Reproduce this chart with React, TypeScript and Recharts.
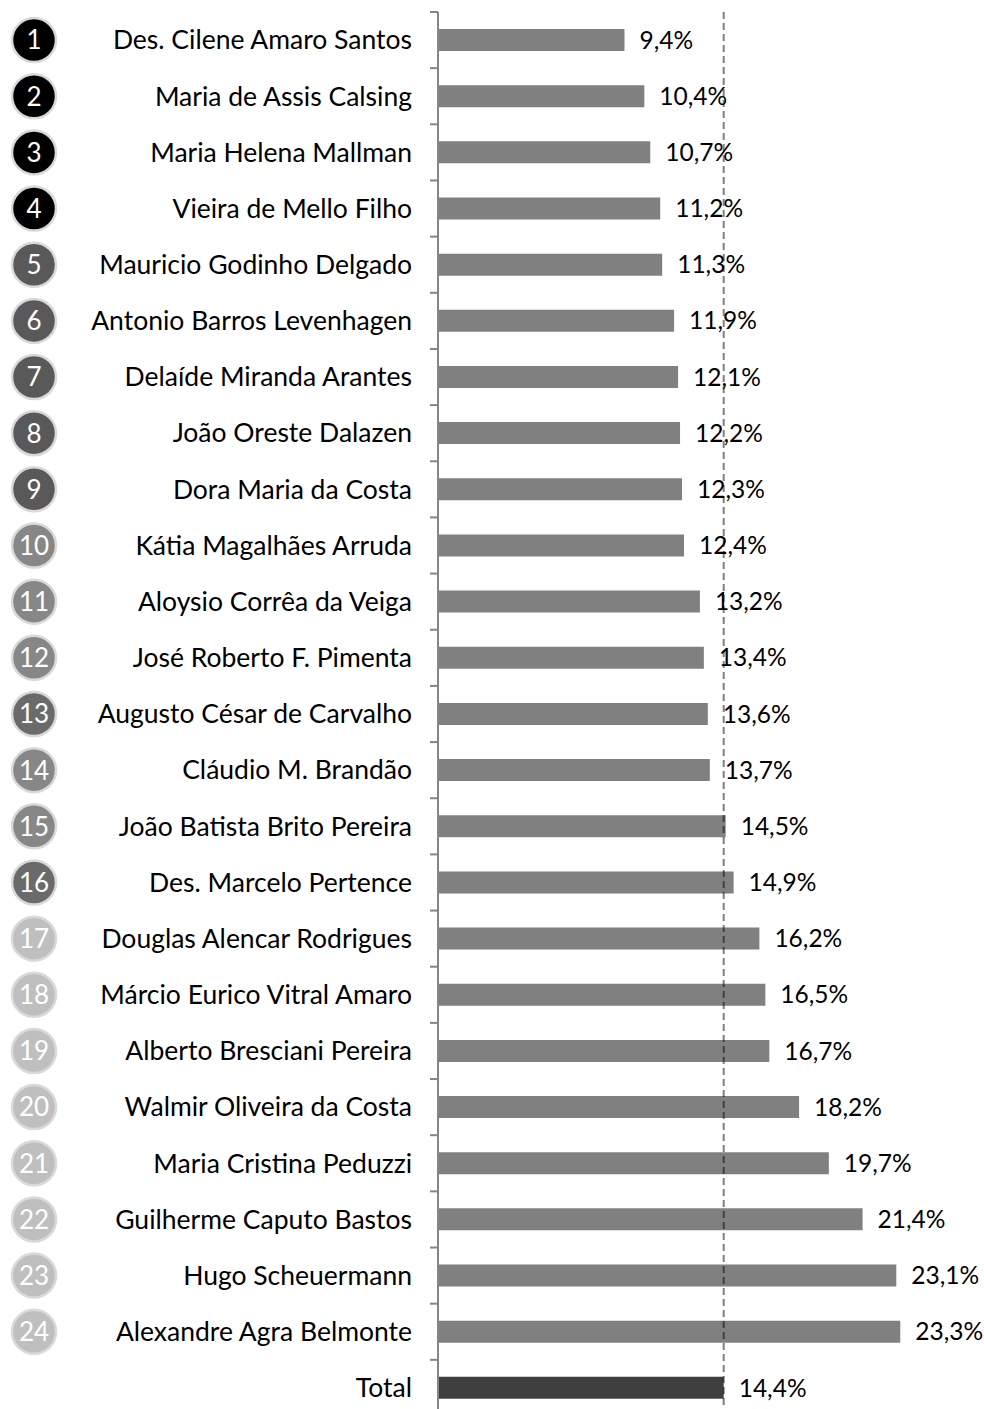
import React from "react";
import { Bar, BarChart, Cell, LabelList, ReferenceLine, XAxis, YAxis } from "recharts";

const NAMES = [
  "Des. Cilene Amaro Santos",
  "Maria de Assis Calsing",
  "Maria Helena Mallman",
  "Vieira de Mello Filho",
  "Mauricio Godinho Delgado",
  "Antonio Barros Levenhagen",
  "Delaíde Miranda Arantes",
  "João Oreste Dalazen",
  "Dora Maria da Costa",
  "Kátia Magalhães Arruda",
  "Aloysio Corrêa da Veiga",
  "José Roberto F. Pimenta",
  "Augusto César de Carvalho",
  "Cláudio M. Brandão",
  "João Batista Brito Pereira",
  "Des. Marcelo Pertence",
  "Douglas Alencar Rodrigues",
  "Márcio Eurico Vitral Amaro",
  "Alberto Bresciani Pereira",
  "Walmir Oliveira da Costa",
  "Maria Cristina Peduzzi",
  "Guilherme Caputo Bastos",
  "Hugo Scheuermann",
  "Alexandre Agra Belmonte",
];

const VALUES = [
  9.4, 10.4, 10.7, 11.2, 11.3, 11.9, 12.1, 12.2, 12.3, 12.4, 13.2, 13.4, 13.6, 13.7, 14.5,
  14.9, 16.2, 16.5, 16.7, 18.2, 19.7, 21.4, 23.1, 23.3,
];

// rank badge colours
const BADGE_COLORS = [
  "#000000", "#000000", "#000000", "#000000",
  "#595959", "#595959", "#595959", "#595959", "#595959",
  "#878787", "#878787", "#878787", "#6a6a6a", "#878787", "#878787", "#6a6a6a",
  "#bfbfbf", "#bfbfbf", "#bfbfbf", "#bfbfbf", "#bfbfbf", "#bfbfbf", "#bfbfbf", "#bfbfbf",
];

const TOTAL_LABEL = "Total";
const TOTAL_VALUE = 14.4;

const FONT = "Lato, 'Open Sans', sans-serif";
const CHART_W = 984;
const CHART_H = 1416;
const MARGIN = { top: 12, right: 50, bottom: 0, left: 0 };
const ROW_H = (CHART_H - MARGIN.top - MARGIN.bottom) / (NAMES.length + 1);

const data = [
  ...NAMES.map((name, i) => ({ name, value: VALUES[i], rank: i + 1, badge: BADGE_COLORS[i] })),
  { name: TOTAL_LABEL, value: TOTAL_VALUE, rank: 0, badge: "" },
];

const fmt = (v: number) => `${v.toFixed(1).replace(".", ",")}%`;

function NameTick(props: any) {
  const { y, payload, index } = props;
  const row = data[index];
  return (
    <g>
      <line x1={430} x2={438} y1={y - ROW_H / 2} y2={y - ROW_H / 2} stroke="#868686" strokeWidth={2} />
      <text x={412} y={y} dy="0.35em" textAnchor="end" fontSize={26.5} fontFamily={FONT} fill="#000">
        {payload.value}
      </text>
      {row && row.rank > 0 && (
        <g>
          <circle cx={34} cy={y} r={22} fill={row.badge} stroke="#d9d9d9" strokeWidth={2.5} />
          <text x={34} y={y} dy="0.36em" textAnchor="middle" fontSize={26} fontFamily={FONT} fill="#fff">
            {row.rank}
          </text>
        </g>
      )}
    </g>
  );
}

export default function App() {
  return (
    <div style={{ position: "absolute", left: 0, top: 0, width: CHART_W, height: 1409, overflow: "hidden", background: "#fff" }}>
      <BarChart width={CHART_W} height={CHART_H} data={data} layout="vertical" margin={MARGIN} barCategoryGap={0}>
        <XAxis type="number" domain={[0, 25]} hide />
        <YAxis
          type="category"
          dataKey="name"
          width={438}
          tick={<NameTick />}
          tickLine={false}
          axisLine={{ stroke: "#868686", strokeWidth: 2 }}
          interval={0}
        />
        <Bar dataKey="value" barSize={22} isAnimationActive={false}>
          {data.map((d) => (
            <Cell key={d.name} fill={d.rank === 0 ? "#404040" : "#808080"} />
          ))}
          <LabelList
            dataKey="value"
            position="right"
            offset={15}
            formatter={(v: any) => fmt(Number(v))}
            style={{ fontSize: 24.5, fontFamily: FONT, fill: "#000" }}
          />
        </Bar>
        <ReferenceLine x={TOTAL_VALUE} stroke="rgba(0,0,0,0.5)" strokeWidth={2} strokeDasharray="7 4" />
      </BarChart>
    </div>
  );
}
